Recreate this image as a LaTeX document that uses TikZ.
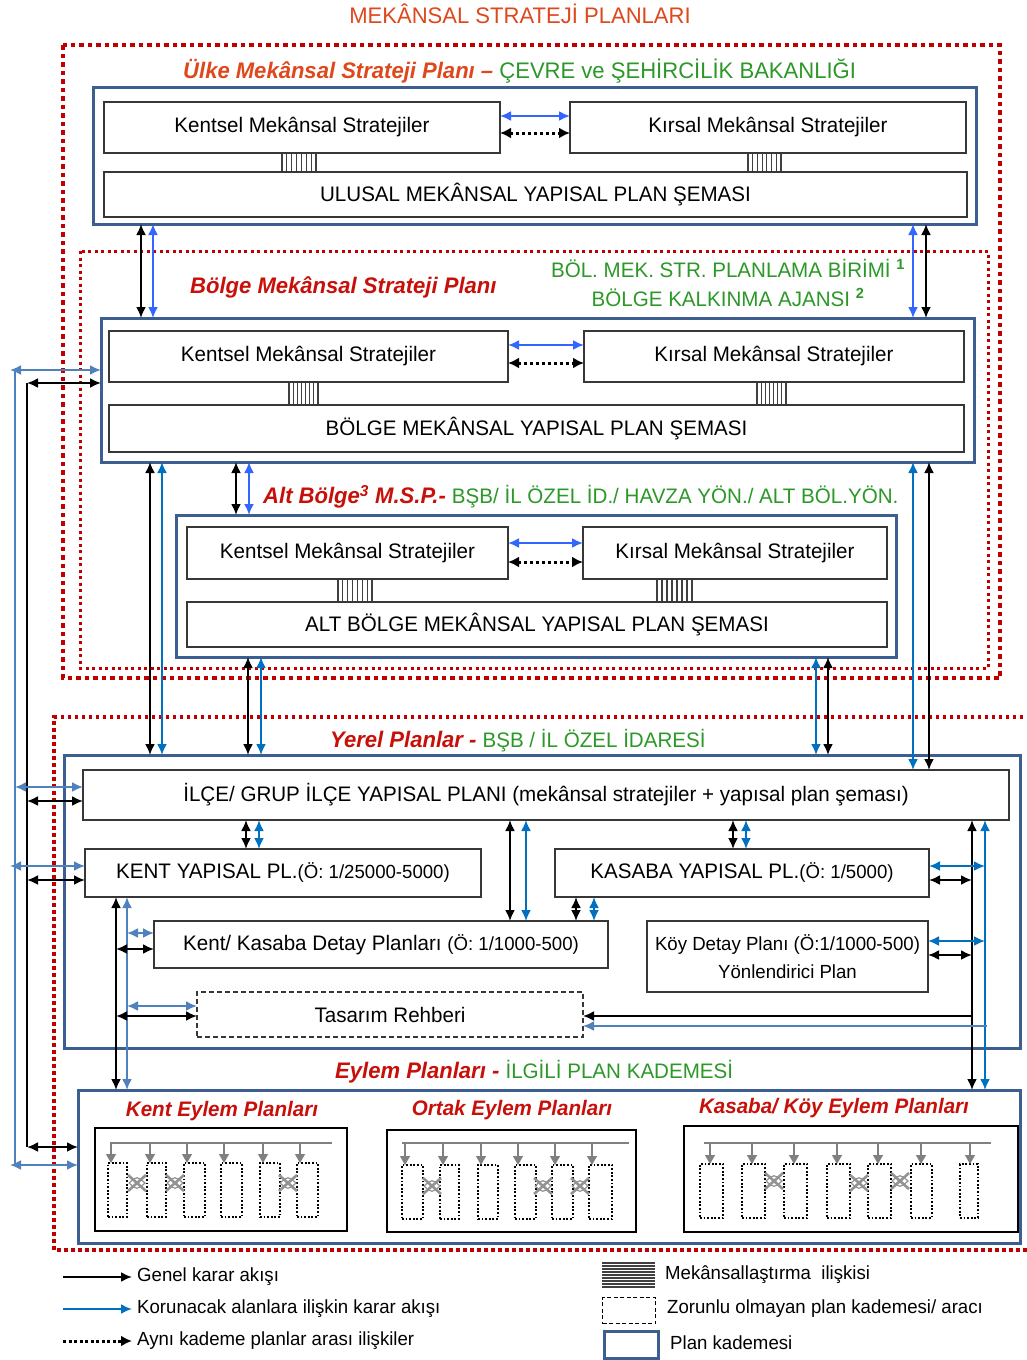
\documentclass[tikz,border=0pt]{standalone}
\usepackage{fontspec}
\setmainfont{Liberation Sans}[FakeStretch=0.98]
\usetikzlibrary{arrows.meta}
\definecolor{hred}{RGB}{200,16,10}
\definecolor{horange}{RGB}{222,72,28}
\definecolor{hgreen}{RGB}{44,152,40}
\definecolor{dred}{RGB}{192,0,0}
\definecolor{planblue}{RGB}{60,94,145}
\definecolor{bblue}{RGB}{51,102,255}
\definecolor{mblue}{RGB}{0,112,192}
\definecolor{lblue}{RGB}{79,129,189}
\definecolor{boxgray}{RGB}{55,55,55}
\newcommand\bxf{\fontsize{21}{25}\selectfont}
\newcommand\smf{\fontsize{19}{22}\selectfont}
\newcommand\hdf{\fontsize{22.5}{26}\selectfont\bfseries\itshape}
\newcommand\grf{\fontsize{21}{26}\selectfont}
\newcommand\mhatch[4]{%
  \fill[white] (#1,#2) rectangle (#3,#4);
  \foreach \hx in {0,...,7}{\draw[line width=1.1pt, black!75] ({#1+\hx*(#3-#1)/7},#2) -- ({#1+\hx*(#3-#1)/7},#4);}
}
\newcommand\eyex[2]{%
  \draw[gray!85, line width=2.6pt] ({#1-9},{#2-8}) -- ({#1+9},{#2+8}) ({#1-9},{#2+8}) -- ({#1+9},{#2-8});
  \draw[gray!85, line width=1.2pt] ({#1-8},#2) .. controls (#1,{#2-7}) .. ({#1+8},#2) .. controls (#1,{#2+7}) .. ({#1-8},#2);
  \fill[gray!85] (#1,#2) circle (2.2);
}
\tikzset{
  pbox/.style={draw=planblue, line width=3pt, inner sep=0pt, outer sep=0pt, anchor=north west},
  ibox/.style={draw=boxgray, line width=1.3pt, fill=white, inner sep=0pt, outer sep=0pt, anchor=north west, font=\bxf, align=center},
  ebox/.style={draw=black, line width=2.5pt, fill=white, inner sep=0pt, outer sep=0pt, anchor=north west},
  drect/.style={draw=black, line width=1.8pt, dash pattern=on 1.8pt off 1.8pt, inner sep=0pt, outer sep=0pt, anchor=north west, minimum height=54pt},
  tp/.tip={Latex[length=11pt,width=10pt]},
  ak/.style={draw=black, line width=2pt, tp-tp},
  ab/.style={draw=bblue, line width=2pt, tp-tp},
  am/.style={draw=mblue, line width=2pt, tp-tp},
  al/.style={draw=lblue, line width=2pt, tp-tp},
  adot/.style={draw=black, line width=3pt, dash pattern=on 3pt off 3pt, {Latex[length=11pt,width=11pt]}-{Latex[length=11pt,width=11pt]}},
  garr/.style={draw=gray, line width=1.3pt, -{Triangle[length=9pt,width=10pt]}},
  head/.style={anchor=west, inner sep=0pt},
}
\begin{document}
\begin{tikzpicture}[x=1pt,y=-1pt]
\useasboundingbox (0,0) rectangle (1026,1360);
\fill[white] (0,0) rectangle (1026,1360);

% red dotted regions
\draw[dred, line width=4pt, dash pattern=on 4.5pt off 4pt] (63,45) rectangle (1000,678);
\draw[dred, line width=3pt, dash pattern=on 3pt off 3.5pt] (80,251) rectangle (988,668);
\draw[dred, line width=3.5pt, dash pattern=on 3.5pt off 3.5pt] (1030,717) -- (54,717) -- (54,1250) -- (1030,1250);

% title and headings
\node[text=horange, font=\fontsize{22.5}{26}\selectfont] (title) at (520,14) {MEKÂNSAL STRATEJİ PLANLARI};
\node[head] (h1) at (183,71) {\hdf\color{horange}Ülke Mekânsal Strateji Planı –~\fontsize{22.5}{26}\selectfont\mdseries\upshape\color{hgreen}ÇEVRE ve ŞEHİRCİLİK BAKANLIĞI};
\node[head, text=hred] (h2) at (190,287) {\hdf Bölge Mekânsal Strateji Planı};
\node[text=hgreen, align=center, font=\fontsize{21}{29}\selectfont] (h2g) at (728,283) {BÖL. MEK. STR. PLANLAMA BİRİMİ \textsuperscript{\bfseries 1}\\BÖLGE KALKINMA AJANSI \textsuperscript{\bfseries 2}};
\node[head] (h3) at (263,497) {\hdf\color{hred}Alt Bölge\textsuperscript{3} M.S.P.-~\grf\mdseries\upshape\color{hgreen}BŞB/ İL ÖZEL İD./ HAVZA YÖN./ ALT BÖL.YÖN.};
\node[head] (h4) at (330,741) {\hdf\color{hred}Yerel Planlar -~\grf\mdseries\upshape\color{hgreen}BŞB / İL ÖZEL İDARESİ};
\node[head] (h5) at (335,1072) {\hdf\color{hred}Eylem Planları -~\grf\mdseries\upshape\color{hgreen}İLGİLİ PLAN KADEMESİ};

% plan boxes
\node[pbox, minimum width=883pt, minimum height=137pt] (ulke) at (93,87) {};
\node[pbox, minimum width=873pt, minimum height=144pt] (bolge) at (101,318) {};
\node[pbox, minimum width=720pt, minimum height=142pt] (alt) at (176,515) {};
\node[pbox, minimum width=956pt, minimum height=293pt] (yerel) at (64,755) {};
\node[pbox, minimum width=942pt, minimum height=153pt] (eylem) at (78,1090) {};

% hatches
\mhatch{282}{153}{316}{172}
\mhatch{748}{153}{781}{172}
\mhatch{289}{382}{318}{405}
\mhatch{757}{382}{786}{405}
\mhatch{338}{579}{372}{602}
\mhatch{657}{579}{692}{602}

% inner boxes
\node[ibox, minimum width=396pt, minimum height=51pt] (uk) at (104,102) {Kentsel Mekânsal Stratejiler};
\node[ibox, minimum width=396pt, minimum height=51pt] (ur) at (570,102) {Kırsal Mekânsal Stratejiler};
\node[ibox, minimum width=863pt, minimum height=45pt] (uu) at (104,172) {ULUSAL MEKÂNSAL YAPISAL PLAN ŞEMASI};
\node[ibox, minimum width=399pt, minimum height=51pt] (bk) at (109,331) {Kentsel Mekânsal Stratejiler};
\node[ibox, minimum width=380pt, minimum height=51pt] (br) at (584,331) {Kırsal Mekânsal Stratejiler};
\node[ibox, minimum width=855pt, minimum height=47pt] (bb) at (109,405) {BÖLGE MEKÂNSAL YAPISAL PLAN ŞEMASI};
\node[ibox, minimum width=321pt, minimum height=52pt] (ak) at (187,527) {Kentsel Mekânsal Stratejiler};
\node[ibox, minimum width=304pt, minimum height=52pt] (ar) at (583,527) {Kırsal Mekânsal Stratejiler};
\node[ibox, minimum width=700pt, minimum height=45pt] (aa) at (187,602) {ALT BÖLGE MEKÂNSAL YAPISAL PLAN ŞEMASI};
\node[ibox, minimum width=926pt, minimum height=50pt] (ilce) at (83,770) {İLÇE/ GRUP İLÇE YAPISAL PLANI (mekânsal stratejiler + yapısal plan şeması)};
\node[ibox, minimum width=396pt, minimum height=48pt] (kent) at (85,849) {KENT YAPISAL PL.{\smf(Ö: 1/25000-5000)}};
\node[ibox, minimum width=374pt, minimum height=48pt] (kas) at (555,849) {KASABA YAPISAL PL.{\smf(Ö: 1/5000)}};
\node[ibox, minimum width=454pt, minimum height=47pt] (det) at (154,921) {Kent/ Kasaba Detay Planları {\smf(Ö: 1/1000-500)}};
\node[ibox, minimum width=281pt, minimum height=71pt, font=\fontsize{19}{28}\selectfont] (koy) at (647,921) {Köy Detay Planı (Ö:1/1000-500)\\Yönlendirici Plan};
\node[ibox, dash pattern=on 5pt off 3pt, minimum width=386pt, minimum height=45pt] (tas) at (197,992) {Tasarım Rehberi};

% same-level arrows
\draw[ab] (uk.east |- 0,116) -- (ur.west |- 0,116);
\draw[adot] (uk.east |- 0,133) -- (ur.west |- 0,133);
\draw[ab] (bk.east |- 0,345) -- (br.west |- 0,345);
\draw[adot] (bk.east |- 0,363) -- (br.west |- 0,363);
\draw[ab] (ak.east |- 0,543) -- (ar.west |- 0,543);
\draw[adot] (ak.east |- 0,562) -- (ar.west |- 0,562);

% vertical arrows upper part
\draw[ak] (ulke.south -| 141,0) -- (bolge.north -| 141,0);
\draw[ab] (ulke.south -| 153,0) -- (bolge.north -| 153,0);
\draw[ab] (ulke.south -| 913,0) -- (bolge.north -| 913,0);
\draw[ak] (ulke.south -| 926,0) -- (bolge.north -| 926,0);
\draw[ak] (bolge.south -| 236,0) -- (alt.north -| 236,0);
\draw[ab] (bolge.south -| 249,0) -- (alt.north -| 249,0);
\draw[ak] (bolge.south -| 150,0) -- (yerel.north -| 150,0);
\draw[am] (bolge.south -| 162,0) -- (yerel.north -| 162,0);
\draw[ak] (alt.south -| 248,0) -- (yerel.north -| 248,0);
\draw[am] (alt.south -| 261,0) -- (yerel.north -| 261,0);
\draw[am] (alt.south -| 816,0) -- (yerel.north -| 816,0);
\draw[ak] (alt.south -| 828,0) -- (yerel.north -| 828,0);
\draw[am] (bolge.south -| 913,0) -- (ilce.north -| 913,0);
\draw[ak] (bolge.south -| 929,0) -- (ilce.north -| 929,0);

% left outer lines
\coordinate (lb1) at (10,370);
\coordinate (lk1) at (27,383);
\draw[lblue, line width=2pt] (15,370) -- (15,1165);
\draw[black, line width=2pt] (27,383) -- (27,1147);
\draw[al] (lb1) -- (bolge.west |- 0,370);
\draw[ak] (lk1) -- (bolge.west |- 0,383);
\draw[al] (15,787) -- (ilce.west |- 0,787);
\draw[ak] (27,801) -- (ilce.west |- 0,801);
\draw[al] (10,866) -- (kent.west |- 0,866);
\draw[ak] (27,880) -- (kent.west |- 0,880);
\draw[ak] (27,1147) -- (eylem.west |- 0,1147);
\draw[al] (10,1165) -- (eylem.west |- 0,1165);

% yerel internal arrows
\draw[ak] (ilce.south -| 246,0) -- (kent.north -| 246,0);
\draw[am] (ilce.south -| 259,0) -- (kent.north -| 259,0);
\draw[ak] (ilce.south -| 510,0) -- (det.north -| 510,0);
\draw[am] (ilce.south -| 526,0) -- (det.north -| 526,0);
\draw[ak] (ilce.south -| 733,0) -- (kas.north -| 733,0);
\draw[am] (ilce.south -| 746,0) -- (kas.north -| 746,0);
\draw[ak] (kas.south -| 576,0) -- (det.north -| 576,0);
\draw[am] (kas.south -| 594,0) -- (det.north -| 594,0);
% left branch
\draw[ak] (kent.south -| 116,0) -- (eylem.north -| 116,0);
\draw[al] (kent.south -| 127,0) -- (eylem.north -| 127,0);
\draw[al] (127,933) -- (det.west |- 0,933);
\draw[ak] (116,949) -- (det.west |- 0,949);
\draw[al] (127,1006) -- (tas.west |- 0,1006);
\draw[ak] (116,1016) -- (tas.west |- 0,1016);
% right branch
\draw[ak] (ilce.south -| 972,0) -- (eylem.north -| 972,0);
\draw[am] (ilce.south -| 985,0) -- (eylem.north -| 985,0);
\draw[am] (kas.east |- 0,866) -- (985,866);
\draw[ak] (kas.east |- 0,880) -- (972,880);
\draw[am] (koy.east |- 0,941) -- (985,941);
\draw[ak] (koy.east |- 0,955) -- (972,955);
\draw[black, line width=2pt, -tp] (972,1016) -- (tas.east |- 0,1016);
\draw[lblue, line width=2pt, -tp] (987,1026) -- (tas.east |- 0,1026);

% eylem panels
\node[text=hred, font=\fontsize{21}{25}\selectfont\bfseries\itshape] (t1) at (222,1111) {Kent Eylem Planları};
\node[text=hred, font=\fontsize{21}{25}\selectfont\bfseries\itshape] (t2) at (512,1110) {Ortak Eylem Planları};
\node[text=hred, font=\fontsize{21}{25}\selectfont\bfseries\itshape] (t3) at (834,1108) {Kasaba/ Köy Eylem Planları};
\node[ebox, minimum width=252pt, minimum height=103pt] (pk) at (95,1128) {};
\node[ebox, minimum width=249pt, minimum height=102pt] (po) at (387,1130) {};
\node[ebox, minimum width=334pt, minimum height=106pt] (pq) at (684,1126) {};

\draw[gray, line width=1.5pt] (110,1143) -- (332,1143);
\foreach \a/\b [count=\i] in {108/127,147/166,184/205,221/242,260/280,297/318}{
  \node[drect, minimum width=\b-\a] (ke\i) at (\a,1163) {};
  \draw[garr] (\a+3,1143) -- (ke\i.north west -| \a+3,0);
}
\draw[gray, line width=1.5pt] (402,1143) -- (629,1143);
\foreach \a/\b [count=\i] in {402/423,440/459,478/498,515/536,552/573,589/612}{
  \node[drect, minimum width=\b-\a] (oe\i) at (\a,1165) {};
  \draw[garr] (\a+3,1143) -- (oe\i.north west -| \a+3,0);
}
\draw[gray, line width=1.5pt] (704,1143) -- (991,1143);
\foreach \a/\b [count=\i] in {700/723,742/765,784/807,827/850,868/891,911/932,960/978}{
  \node[drect, minimum width=\b-\a] (qe\i) at (\a,1164) {};
  \draw[garr] (\a+10,1143) -- (qe\i.north west -| \a+10,0);
}
\eyex{137}{1183}\eyex{175}{1183}\eyex{288}{1183}
\eyex{432}{1186}\eyex{543}{1186}\eyex{580}{1186}
\eyex{774}{1181}\eyex{859}{1183}\eyex{900}{1181}

% legend
\tikzset{lgt/.style={anchor=west, inner sep=0pt, font=\fontsize{19}{22}\selectfont}}
\node[lgt] (l1) at (137,1277) {Genel karar akışı};
\node[lgt] (l2) at (137,1309) {Korunacak alanlara ilişkin karar akışı};
\node[lgt] (l3) at (137,1341) {Aynı kademe planlar arası ilişkiler};
\coordinate (c1) at (63,1277);
\coordinate (c2) at (63,1309);
\coordinate (c3) at (63,1341);
\draw[black, line width=2pt, -tp] (c1) -- ([xshift=-5pt]l1.west);
\draw[mblue, line width=2pt, -tp] (c2) -- ([xshift=-5pt]l2.west);
\draw[black, line width=3pt, dash pattern=on 3pt off 2.5pt, -{Latex[length=11pt,width=11pt]}] (c3) -- ([xshift=-5pt]l3.west);
\foreach \k in {0,...,8}{\draw[black!75, line width=1.2pt] (602,{1263+\k*3}) -- (655,{1263+\k*3});}
\node[anchor=north west, draw=black, dash pattern=on 4pt off 2.5pt, line width=1.2pt, minimum width=53pt, minimum height=26pt, inner sep=0pt] (lg2) at (602,1297) {};
\node[anchor=north west, draw=planblue, line width=2.5pt, minimum width=54pt, minimum height=27pt, inner sep=0pt] (lg3) at (603,1330) {};
\node[lgt] (l4) at (665,1275) {Mekânsallaştırma\ \ ilişkisi};
\node[lgt] (l5) at (667,1309) {Zorunlu olmayan plan kademesi/ aracı};
\node[lgt] (l6) at (670,1343) {Plan kademesi};
\end{tikzpicture}
\end{document}
